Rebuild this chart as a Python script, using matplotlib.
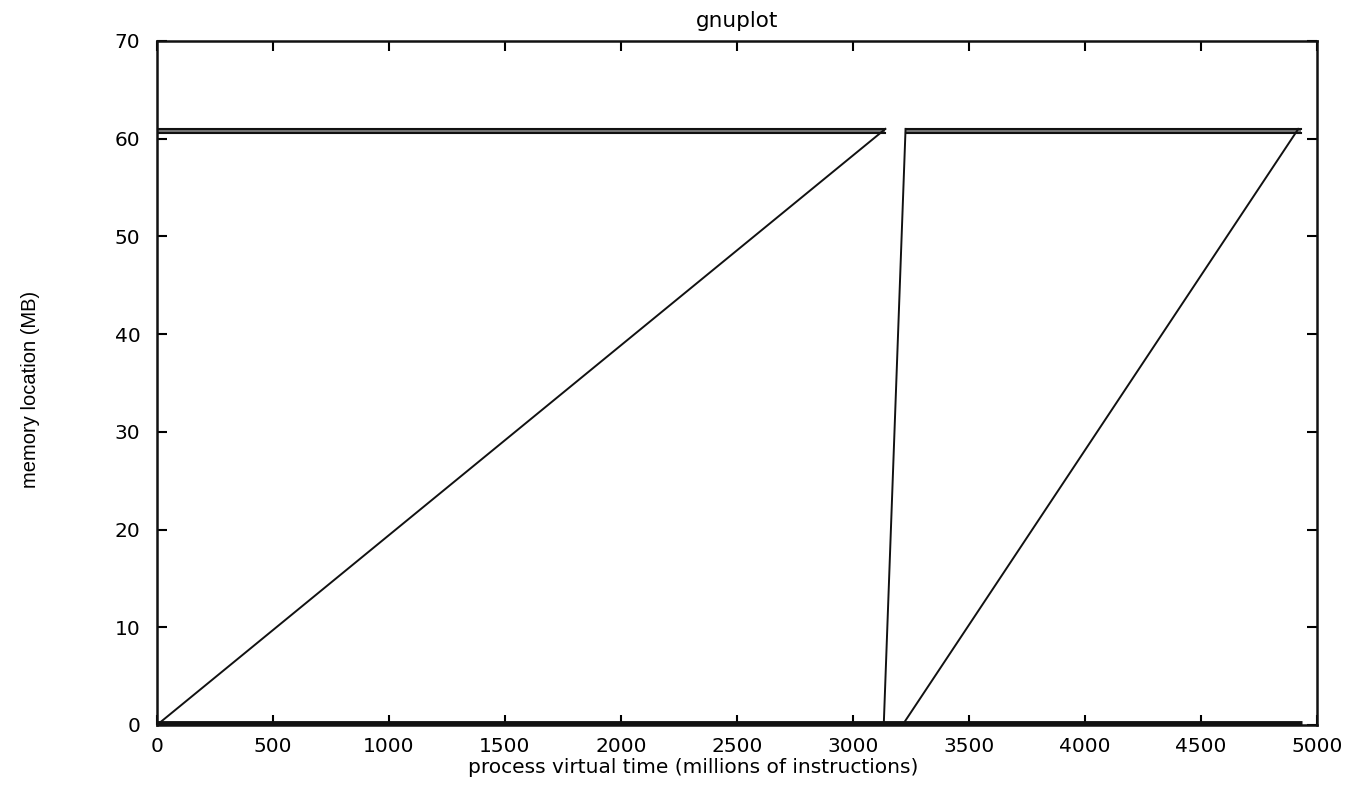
import matplotlib
matplotlib.use("Agg")
import matplotlib.pyplot as plt

# first sweep through memory
sweep1_x = [0, 3140]
sweep1_y = [0, 61]
# jump back up
jump_x = [3133, 3227]
jump_y = [0, 61]
# second sweep
sweep2_x = [3214, 4920]
sweep2_y = [0, 61]

# dense bands near the top of the address range
top_band_left_x = [0, 3140]
top_band_right_x = [3227, 4930]
top_band_hi = 61.0
top_band_lo = 60.55

# dense band near address 0
bottom_band_x = [0, 4935]
bottom_band_y = 0.15

x_ticks = list(range(0, 5001, 500))
y_ticks = list(range(0, 71, 10))

plt.rcParams['font.family'] = ['DejaVu Sans']

fig = plt.figure(figsize=(13.71, 7.88), dpi=100)
ax = fig.add_axes([0.1145, 0.080, 0.846, 0.868])

c = '#111111'
ax.plot(sweep1_x, sweep1_y, color=c, lw=1.4)
ax.plot(jump_x, jump_y, color=c, lw=1.4)
ax.plot(sweep2_x, sweep2_y, color=c, lw=1.4)

for xs in (top_band_left_x, top_band_right_x):
    ax.fill_between(xs, [top_band_lo] * 2, [top_band_hi] * 2, color='#777777', lw=0)
    ax.plot(xs, [top_band_hi] * 2, color=c, lw=1.5)
    ax.plot(xs, [top_band_lo] * 2, color=c, lw=1.5)

ax.plot(bottom_band_x, [bottom_band_y] * 2, color=c, lw=3.5, solid_capstyle='butt')

ax.set_xlim(0, 5000)
ax.set_ylim(0, 70)
ax.set_xticks(x_ticks)
ax.set_yticks(y_ticks)
ax.tick_params(direction='in', length=7, width=1.5, top=True, right=True,
               labelsize=14.5, colors='black')
ax.tick_params(axis='x', pad=9)
ax.tick_params(axis='y', pad=12)

for s in ax.spines.values():
    s.set_linewidth(1.8)
    s.set_color(c)

ax.set_title("gnuplot", fontsize=15.5, pad=10)
ax.set_xlabel("process virtual time (millions of instructions)", fontsize=14.5)
ax.xaxis.set_label_coords(0.462, -0.049)
ax.set_ylabel("memory location (MB)", fontsize=14.5,
              family=['Liberation Sans Narrow', 'Liberation Sans', 'DejaVu Sans'])
ax.yaxis.set_label_coords(-0.101, 0.49)

fig.savefig("out.png", dpi=100)
